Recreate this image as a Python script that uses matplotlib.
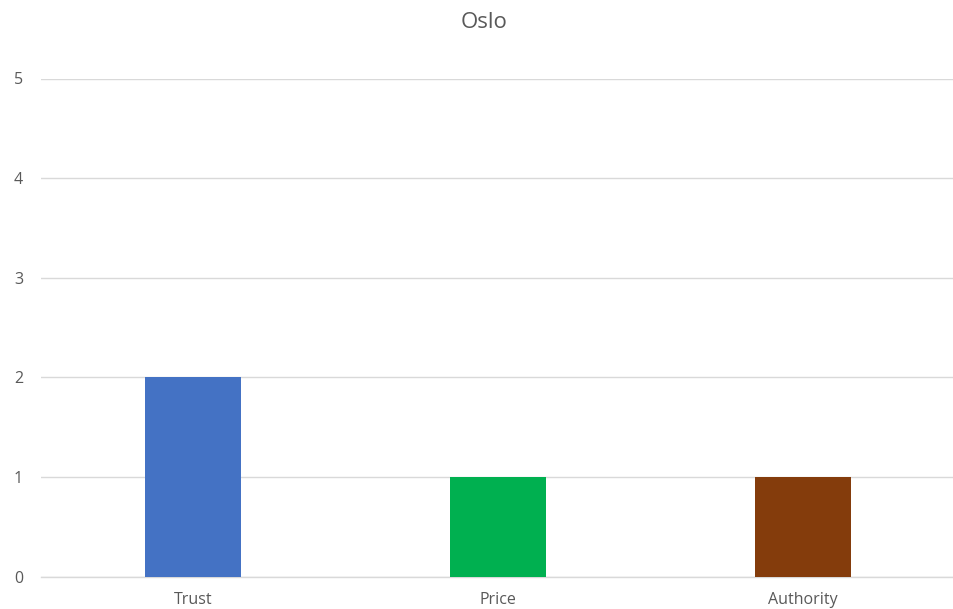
import matplotlib
matplotlib.use("Agg")
import matplotlib.pyplot as plt

categories = ["Trust", "Price", "Authority"]
values = [2, 1, 1]
colors = ["#4472C4", "#00B050", "#843C0C"]
title = "Oslo"
y_ticks = [0, 1, 2, 3, 4, 5]

plt.rcParams["font.family"] = ["Open Sans", "DejaVu Sans"]

fig = plt.figure(figsize=(9.54, 6.09), dpi=100)
ax = fig.add_axes([41 / 954, (609 - 576.7) / 609, 914 / 954, (576.7 - 78.5) / 609])

x = list(range(len(categories)))
ax.bar(x, values, width=0.315, color=colors, zorder=3)

ax.set_xlim(-0.5, len(categories) - 0.5)
ax.set_ylim(0, 5)
ax.set_yticks(y_ticks)
ax.set_xticks(x)
ax.set_xticklabels(categories)

ax.grid(axis="y", color="#D9D9D9", linewidth=1.0, zorder=0)
for s in ["top", "right", "left"]:
    ax.spines[s].set_visible(False)
ax.spines["bottom"].set_color("#D9D9D9")
ax.spines["bottom"].set_linewidth(1.0)
ax.tick_params(axis="both", length=0, colors="#595959", labelsize=11.5)
ax.tick_params(axis="y", pad=13)
ax.tick_params(axis="x", pad=11)

fig.text(484 / 954, 1 - 23 / 609, title, ha="center", va="center",
         fontsize=16, color="#595959")

fig.savefig("out.png", dpi=100)
